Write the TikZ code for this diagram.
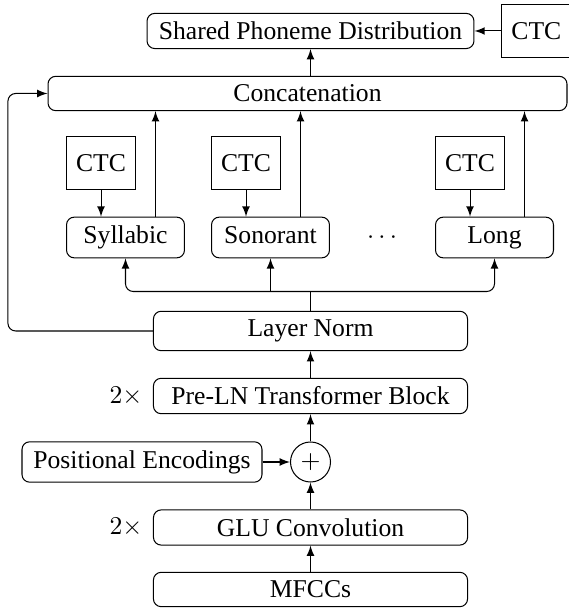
\documentclass[tikz,border=0pt]{standalone}
\usepackage[no-math]{fontspec}
\setmainfont{Liberation Serif}
\usepackage{tikz}
\usetikzlibrary{shapes.geometric, arrows}
\usetikzlibrary{positioning}
\tikzstyle{block} = [rectangle, rounded corners=3pt, minimum width=122.5pt, text centered, draw=black]
\tikzstyle{feature} = [rectangle, rounded corners=3pt, minimum width=46pt, text height=6.8pt, text depth=2.4pt, text centered, draw=black]
\tikzstyle{ctcbox} = [rectangle, minimum width=26.9pt, minimum height=20.7pt, draw=black]
\tikzstyle{sumNode} = [circle, minimum size=15.6pt, inner sep=0pt, draw=black]
\tikzstyle{arrow} = [->,>=latex]

\begin{document}
\begin{tikzpicture}[x=0.39pt, y=0.39pt, node distance=10.5pt]
\useasboundingbox (0,0) rectangle (568,608);
% encoder column
\node (mfcc) [block] at (310.5,18.5) {MFCCs};
\node (glu) [block] at (310.5,80.5) {GLU Convolution};
\node (glutimes) [left=0.6pt of glu] {$2\times$};
\node (plus) [sumNode] at (310.5,146) {$+$};
\node (pos) [block, minimum width=93.6pt] at (142,146) {Positional Encodings};
\node (preln) [block] at (310.5,212) {Pre-LN Transformer Block};
\node (prelntimes) [left=0.6pt of preln] {$2\times$};
\node (ln) [block] at (310.5,277) {Layer Norm};
\coordinate (bus) at (310.5,316.5);
% feature heads
\node (syl) [feature] at (125.5,370.5) {Syllabic};
\node (son) [feature] at (270.5,370.5) {Sonorant};
\node (dots) at (382,370.5) {$\cdots$};
\node (long) [feature] at (494.5,370.5) {Long};
\node (ctcsyl) [ctcbox, above=of syl.north west, anchor=south west] {CTC};
\node (ctcson) [ctcbox, above=of son.north west, anchor=south west] {CTC};
\node (ctclong) [ctcbox, above=of long.north west, anchor=south west] {CTC};
% top
\node (concat) [block, minimum width=202.4pt] at (307.5,514.5) {Concatenation};
\node (shared) [block, minimum width=127.5pt] at (310.5,577) {Shared Phoneme Distribution};
\node (ctctop) [ctcbox, right=of shared] {CTC};

\draw [arrow] (mfcc) -- (glu);
\draw [arrow] (glu) -- (plus);
\draw [arrow] (pos) -- (plus);
\draw [arrow] (plus) -- (preln);
\draw [arrow] (preln) -- (ln);
\draw (ln) -- (bus);
\draw [arrow, rounded corners=3pt] (bus) -| (syl);
\draw [arrow, rounded corners=3pt] (bus) -| (long);
\draw [arrow] (son.south |- bus) -- (son);
\draw [arrow] (ctcsyl) -- (ctcsyl |- syl.north);
\draw [arrow] (ctcson) -- (ctcson |- son.north);
\draw [arrow] (ctclong) -- (ctclong |- long.north);
\draw [arrow] ([xshift=11.7pt]syl.north) -- ([xshift=11.7pt]syl.north |- concat.south);
\draw [arrow] ([xshift=11.7pt]son.north) -- ([xshift=11.7pt]son.north |- concat.south);
\draw [arrow] ([xshift=11.7pt]long.north) -- ([xshift=11.7pt]long.north |- concat.south);
\draw [arrow, rounded corners=3pt] (ln.west) -- ++(-145,0) |- (concat.west);
\draw [arrow] (shared.south |- concat.north) -- (shared.south);
\draw [arrow] (ctctop) -- (shared);
\end{tikzpicture}
\end{document}
